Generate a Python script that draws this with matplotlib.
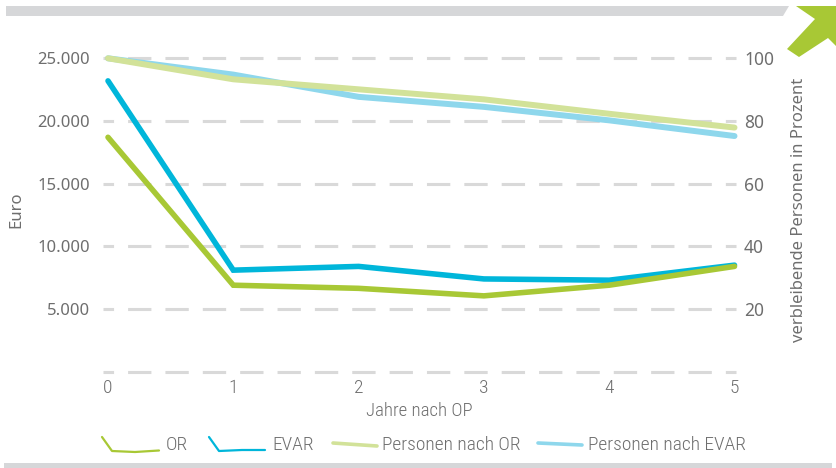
import matplotlib
matplotlib.use("Agg")
import matplotlib.pyplot as plt
from matplotlib.lines import Line2D
from matplotlib.patches import Polygon

# --- data ---------------------------------------------------------------
jahre = [0, 1, 2, 3, 4, 5]
kosten_or = [18700, 6900, 6650, 6050, 6900, 8400]
kosten_evar = [23200, 8100, 8400, 7400, 7300, 8500]
anteil_or = [100, 93.3, 90.1, 86.9, 82.3, 77.9]
anteil_evar = [100, 94.8, 87.7, 84.5, 80.2, 75.2]

euro_ticks = [5000, 10000, 15000, 20000, 25000]
prozent_ticks = [20, 40, 60, 80, 100]
serien = ["OR", "EVAR", "Personen nach OR", "Personen nach EVAR"]

# --- styling ------------------------------------------------------------
C_OR = "#a8c835"
C_EVAR = "#00b6da"
C_P_OR = "#d2e299"
C_P_EVAR = "#8ed7ec"
C_GRID = "#d9d9d9"
C_BAR = "#d6d7d9"
C_TEXT = "#6e6e6e"

plt.rcParams["lines.scale_dashes"] = False
SANS = ["Noto Sans", "Open Sans", "DejaVu Sans"]
COND = ["Roboto Condensed", "Liberation Sans Narrow", "Roboto", "DejaVu Sans"]

W, H = 837, 468
fig = plt.figure(figsize=(W / 100, H / 100), dpi=100)


def px(x, y):
    """Pixel position (origin top-left) to figure fraction."""
    return x / W, 1 - y / H


ax_l, ax_r, ax_t, ax_b = 103, 736, 58.3, 371.7
ax = fig.add_axes([ax_l / W, 1 - ax_b / H, (ax_r - ax_l) / W, (ax_b - ax_t) / H])
x0_px, x5_px = 108, 734.5
unit = (x5_px - x0_px) / 5
ax.set_xlim(-(x0_px - ax_l) / unit, 5 + (ax_r - x5_px) / unit)
ax.set_ylim(0, 25000)

for s in ax.spines.values():
    s.set_visible(False)

# dashed horizontal guides
for y in [0] + euro_ticks:
    ax.axhline(y, color=C_GRID, lw=2.2, linestyle=(9.2, (16.8, 10.1)),
               clip_on=False, zorder=0)

ax.plot(jahre, kosten_evar, color=C_EVAR, lw=4.0, solid_capstyle="round",
        solid_joinstyle="miter", clip_on=False, zorder=3)
ax.plot(jahre, kosten_or, color=C_OR, lw=4.0, solid_capstyle="round",
        solid_joinstyle="miter", clip_on=False, zorder=4)

ax.set_yticks(euro_ticks)
ax.set_yticklabels([f"{v:,}".replace(",", ".") for v in euro_ticks])
ax.set_xticks(jahre)
ax.set_xticklabels([str(j) for j in jahre])
ax.tick_params(axis="y", length=0, pad=9.4, labelsize=12, labelcolor=C_TEXT)
ax.tick_params(axis="x", length=0, pad=5, labelsize=14, labelcolor=C_TEXT)
for lab in ax.get_yticklabels():
    lab.set_family(SANS)
    lab.set_fontweight("light")
for lab in ax.get_xticklabels():
    lab.set_family(COND)
    lab.set_fontweight("light")

ax.set_ylabel("Euro", fontsize=12, color=C_TEXT, family=SANS, fontweight="light")
ax.yaxis.set_label_coords((24 - ax_l) / (ax_r - ax_l), 0.516)
ax.set_xlabel("Jahre nach OP", fontsize=13.5, color=C_TEXT, family=COND,
              fontweight="light", labelpad=4)

ax2 = ax.twinx()
ax2.set_ylim(0, 100)
for s in ax2.spines.values():
    s.set_visible(False)
ax2.plot(jahre, anteil_evar, color=C_P_EVAR, lw=4.3, solid_capstyle="round",
         clip_on=False, zorder=3)
ax2.plot(jahre, anteil_or, color=C_P_OR, lw=4.3, solid_capstyle="round",
         clip_on=False, zorder=4)
ax2.set_yticks(prozent_ticks)
ax2.set_yticklabels([str(v) for v in prozent_ticks])
ax2.tick_params(axis="y", length=0, pad=5.8, labelsize=12.5, labelcolor=C_TEXT)
for lab in ax2.get_yticklabels():
    lab.set_family(SANS)
    lab.set_fontweight("light")
ax2.set_ylabel("verbleibende Personen in Prozent", fontsize=12, color=C_TEXT,
               family=SANS, fontweight="light", rotation=90)
ax2.yaxis.set_label_coords((791 - ax_l) / (ax_r - ax_l), 0.516)

# --- legend -------------------------------------------------------------
leg_y = 445
handles = [
    ([(102, 437), (112, 451), (135, 452), (159, 450.5)], C_OR, 1.6, 166),
    ([(209, 437), (219, 451), (242, 450), (265, 450)], C_EVAR, 1.6, 272),
    ([(333, 443), (377, 446)], C_P_OR, 2.6, 382),
    ([(538, 443), (582, 445)], C_P_EVAR, 2.6, 588),
]
for name, (pts, col, lw, tx) in zip(serien, handles):
    xs, ys = zip(*[px(*p) for p in pts])
    fig.add_artist(Line2D(xs, ys, color=col, lw=lw, solid_capstyle="round",
                          transform=fig.transFigure))
    fig.text(*px(tx, leg_y), name, fontsize=14, color=C_TEXT, family=COND,
             fontweight="light", ha="left", va="center")

# --- decorative frame elements -----------------------------------------
fig.add_artist(Polygon([px(6, 6), px(789, 6), px(783, 16), px(6, 16)],
                       closed=True, facecolor=C_BAR, edgecolor="none",
                       transform=fig.transFigure))
fig.add_artist(Polygon([px(4, 463), px(832, 463), px(832, 468), px(4, 468)],
                       closed=True, facecolor=C_BAR, edgecolor="none",
                       transform=fig.transFigure))
arrow = [(796, 6), (840, 6), (840, 50), (828, 38), (799, 57), (787, 49),
         (815, 19)]
fig.add_artist(Polygon([px(*p) for p in arrow], closed=True, facecolor=C_OR,
                       edgecolor="none", transform=fig.transFigure))

fig.savefig("out.png", dpi=100)
